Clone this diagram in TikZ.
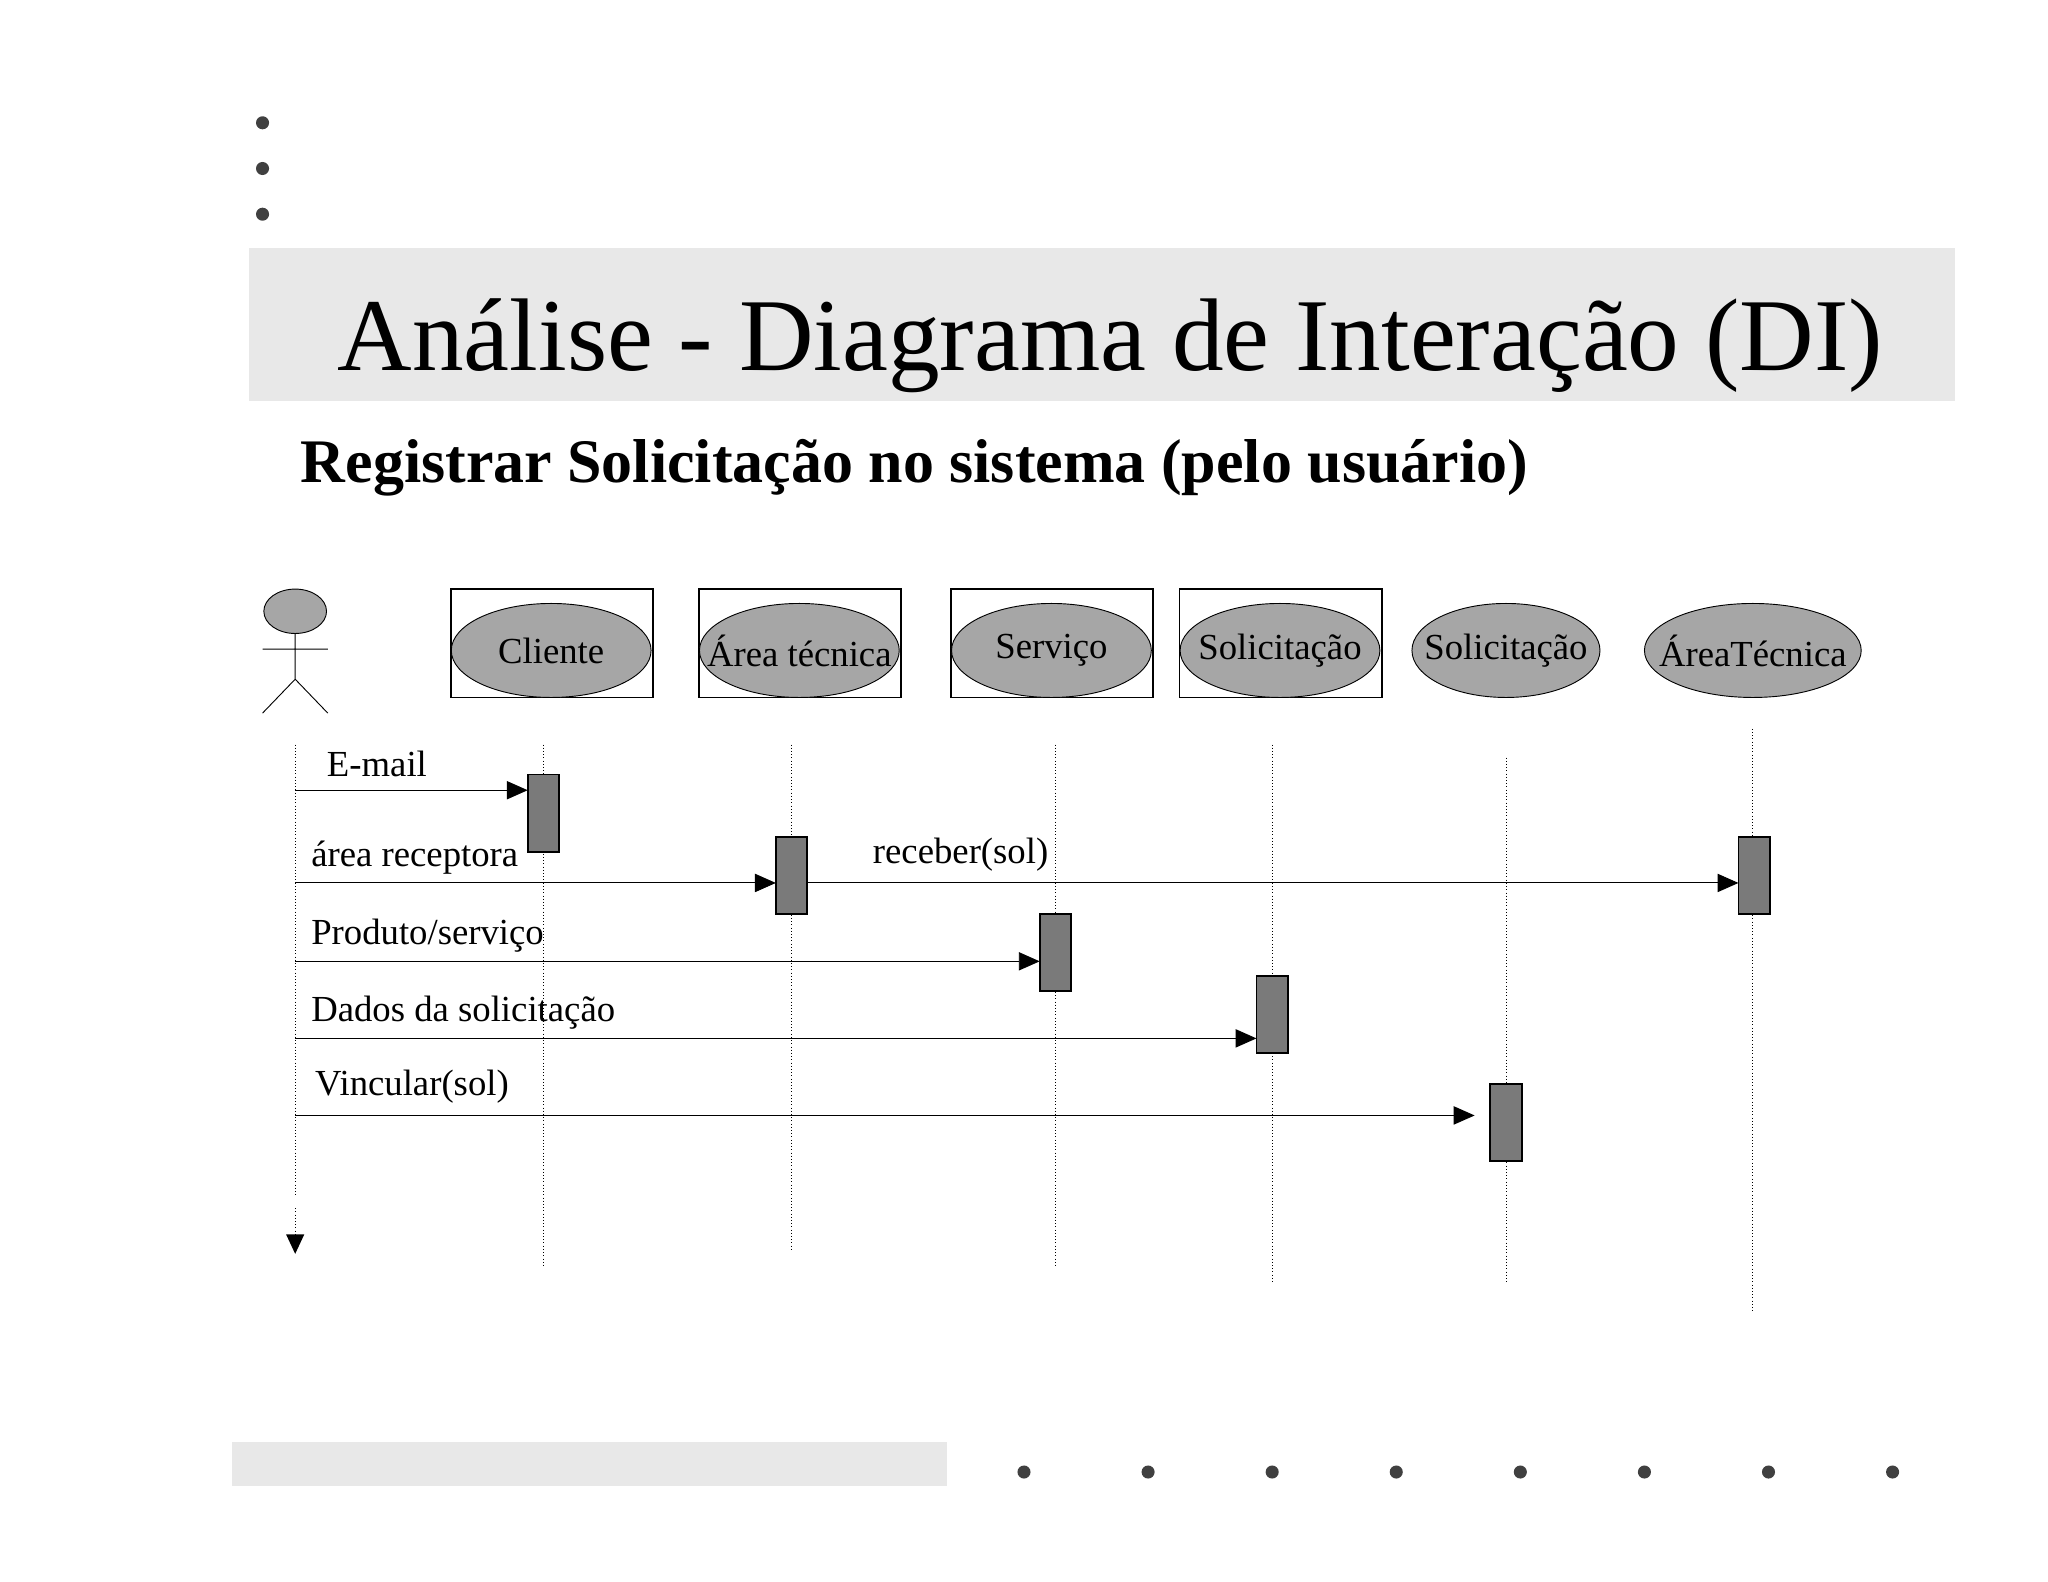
\documentclass[tikz,border=0pt]{standalone}
\usepackage{fontspec}
\setmainfont{Liberation Serif}
\usetikzlibrary{arrows.meta,shapes.geometric}
\begin{document}
\begin{tikzpicture}[x=0.02cm,y=-0.02cm,
  dotc/.style={fill=black!75,draw=none},
  obj/.style={draw,fill=black!35,ellipse,minimum height=1.44cm,inner sep=0pt,font=\fontsize{16}{19}\selectfont},
  frame/.style={draw,thick},
  life/.style={densely dotted},
  act/.style={draw,thick,fill=black!52},
  msg/.style={-{Triangle[length=0.32cm,width=0.28cm]}},
  lab/.style={anchor=west,font=\fontsize{16}{19}\selectfont,inner sep=0pt}]
\useasboundingbox (0,0) rectangle (1568,1211);
\foreach \y in {94,129,164} \fill[dotc] (201,\y) circle (5);
\fill[black!9] (191,190) rectangle (1497,307);
\node[font=\fontsize{45}{50}\selectfont] (title) at (850,265) {Análise - Diagrama de Interação (DI)};
\node[anchor=west,font=\bfseries\fontsize{27}{32}\selectfont,inner sep=0pt] (sub) at (230,358) {Registrar Solicitação no sistema (pelo usuário)};
% actor
\draw[fill=black!35] (226,468) ellipse (24 and 17);
\draw (226,485) -- (226,520) (201,497) -- (251,497) (201,546) -- (226,520) -- (251,546);
% objects
\foreach \n/\x/\t in {c/422/Cliente,a/612/Área técnica,s/805/Serviço,so/980/Solicitação}{
  \draw[frame] (\x-77,451) rectangle (\x+78,534);
  \node[obj,minimum width=3.06cm] (\n) at (\x,498) {\makebox[0pt]{\t}};}
\node[obj,minimum width=2.88cm] (so2) at (1153,498) {\makebox[0pt]{Solicitação}};
\node[obj,minimum width=3.32cm] (at) at (1342,498) {\makebox[0pt]{ÁreaTécnica}};
% lifelines
\draw[life] (226,570) -- (226,915);
\draw[life] (226,925) -- (226,945);
\fill (219,945) -- (233,945) -- (226,960) -- cycle;
\draw[life] (416,570) -- (416,970);
\draw[life] (606,570) -- (606,958);
\draw[life] (808,570) -- (808,970);
\draw[life] (974,570) -- (974,982);
\draw[life] (1153,580) -- (1153,982);
\draw[life] (1342,558) -- (1342,1005);
% activations
\draw[act] (404,593) rectangle node (ac) {} (428,652);
\draw[act] (594,641) rectangle node (aa) {} (618,700);
\draw[act] (796,700) rectangle node (as) {} (820,759);
\draw[act] (962,747) rectangle node (aso) {} (986,806);
\draw[act] (1141,830) rectangle node (aso2) {} (1165,889);
\draw[act] (1331,641) rectangle node (aat) {} (1355,700);
% messages
\coordinate (m1) at (226,605); \coordinate (e1) at (404,605);
\coordinate (m2) at (226,676); \coordinate (e2) at (594,676);
\coordinate (m3) at (618,676); \coordinate (e3) at (1331,676);
\coordinate (m4) at (226,736); \coordinate (e4) at (796,736);
\coordinate (m5) at (226,795); \coordinate (e5) at (962,795);
\coordinate (m6) at (226,854); \coordinate (e6) at (1129,854);
\draw[msg] (m1) -- (e1);
\draw[msg] (m2) -- (e2);
\draw[msg] (m3) -- (e3);
\draw[msg] (m4) -- (e4);
\draw[msg] (m5) -- (e5);
\draw[msg] (m6) -- (e6);
\node[lab] (l1) at (250,585) {E-mail};
\node[lab] (l2) at (238,657) {área receptora};
\node[lab] (l3) at (668,654) {receber(sol)};
\node[lab] (l4) at (238,716) {Produto/serviço};
\node[lab] (l5) at (238,775) {Dados da solicitação};
\node[lab] (l6) at (241,832) {Vincular(sol)};
% footer
\fill[black!9] (178,1104) rectangle (725,1138);
\foreach \x in {784,879,974,1069,1164,1259,1354,1449} \fill[dotc] (\x,1127) circle (5);
\end{tikzpicture}
\end{document}
